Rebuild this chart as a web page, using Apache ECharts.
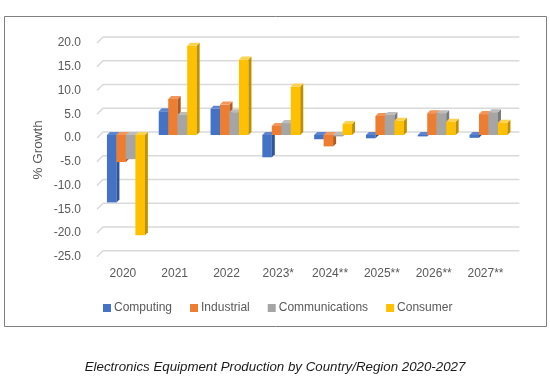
<!DOCTYPE html>
<html><head><meta charset="utf-8">
<script src="https://cdn.jsdelivr.net/npm/echarts@6/dist/echarts.min.js"></script>
<style>html,body{margin:0;padding:0;background:#fff}#c{width:550px;height:389px}</style>
</head><body><div id="c"></div>
<script>
const categories = ['2020','2021','2022','2023*','2024**','2025**','2026**','2027**'];
const computing      = [-14.2, 5.0, 5.5, -4.7, -0.9, -0.7, -0.3, -0.6];
const industrial     = [-5.7, 7.6, 6.4, 1.9, -2.4, 4.0, 4.6, 4.4];
const communications = [-5.1, 4.2, 4.8, 2.5, -0.3, 4.2, 4.6, 4.8];
const consumer       = [-21.1, 18.8, 15.9, 10.2, 2.3, 3.0, 2.8, 2.6];
const yTicks = [20, 15, 10, 5, 0, -5, -10, -15, -20, -25];
const seriesNames = ['Computing','Industrial','Communications','Consumer'];
const seriesValues = [computing, industrial, communications, consumer];
const colors = ['#4472C4','#ED7D31','#A5A5A5','#FFC000'];
const sideColors = ['#2F5597','#B35A1F','#7B7B7B','#BF9000'];
const topColors = ['#5B86D4','#F4965A','#BDBDBD','#FFD24D'];

const chart = echarts.init(document.getElementById('c'));
const DX = 3, DY = -3, D = 3;

function barRenderer(sIdx){
  return function(params, api){
    const ci = api.value(0), v = api.value(1);
    const base = api.coord([ci, 0]);
    const tip = api.coord([ci, v]);
    const catW = api.size([1, 0])[0];
    const bw = catW * 0.183;
    const x0 = base[0] - 2 * bw + sIdx * bw + DX;
    const yTop = Math.min(base[1], tip[1]) + DY;
    const yBot = Math.max(base[1], tip[1]) + DY;
    return {
      type: 'group',
      children: [
        {type:'rect', shape:{x:x0, y:yTop, width:bw, height:Math.max(yBot-yTop,0.5)}, style:{fill:colors[sIdx]}},
        {type:'polygon', shape:{points:[[x0+bw,yTop],[x0+bw+D,yTop-D],[x0+bw+D,yBot-D],[x0+bw,yBot]]}, style:{fill:sideColors[sIdx]}},
        {type:'polygon', shape:{points:[[x0,yTop],[x0+D,yTop-D],[x0+bw+D,yTop-D],[x0+bw,yTop]]}, style:{fill:topColors[sIdx]}}
      ]
    };
  };
}

const series = [{
  type: 'custom',
  name: 'grid',
  silent: true,
  clip: false,
  z: 1,
  data: yTicks.map(v => [0, v]),
  renderItem: function(params, api){
    const y = api.coord([0, api.value(1)])[1];
    const cs = params.coordSys;
    return {type:'polyline', shape:{points:[[cs.x, y],[cs.x+6, y-6],[cs.x+cs.width+8, y-6]]},
      style:{stroke:'#d9d9d9', lineWidth:1.5, fill:null}};
  }
}];
seriesNames.forEach((n, i) => {
  series.push({
    type: 'custom',
    name: n,
    clip: false,
    z: 2 + i,
    itemStyle: {color: colors[i]},
    data: seriesValues[i].map((v, k) => [k, v]),
    renderItem: barRenderer(i)
  });
});

chart.setOption({
  animation: false,
  backgroundColor: '#fff',
  textStyle: {fontFamily: 'Liberation Sans'},
  grid: {left: 97, right: 38.6, top: 43, bottom: 132.3},
  xAxis: {
    type: 'category', data: categories,
    axisLine: {show: false}, axisTick: {show: false},
    axisLabel: {color: '#595959', fontSize: 12, margin: 11}
  },
  yAxis: {
    type: 'value', min: -25, max: 20, interval: 5,
    name: '% Growth', nameLocation: 'middle', nameGap: 52, nameRotate: 90,
    nameMoveOverlap: false,
    nameTextStyle: {color: '#595959', fontSize: 13.5},
    axisLine: {show: false}, axisTick: {show: false}, splitLine: {show: false},
    axisLabel: {color: '#595959', fontSize: 12, margin: 16, formatter: v => v.toFixed(1)}
  },
  legend: {
    data: seriesNames.map((n, i) => ({name: n, icon: 'rect', itemStyle: {color: colors[i]}})),
    left: 98, top: 297, itemWidth: 8, itemHeight: 8, itemGap: 18,
    textStyle: {color: '#595959', fontSize: 12, padding: [0, 0, 0, -2]}
  },
  graphic: [
    {type: 'rect', shape: {x: 4.5, y: 16.5, width: 542, height: 310}, style: {fill: null, stroke: '#7f7f7f', lineWidth: 1}, z: 0, silent: true},
    {type: 'text', left: 'center', top: 361, style: {text: 'Electronics Equipment Production by Country/Region 2020-2027', fill: '#1a1a1a', font: 'italic 13.3px "Liberation Sans"'}}
  ],
  series: series
});
</script></body></html>
